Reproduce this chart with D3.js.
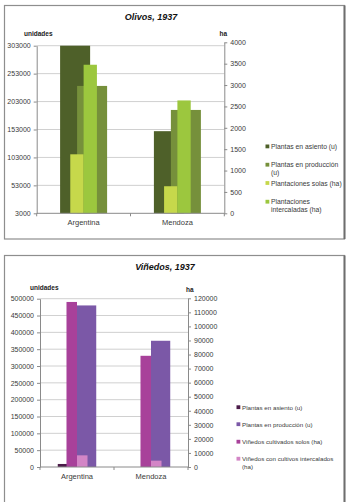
<!DOCTYPE html>
<html lang="es">
<head>
<meta charset="UTF-8"/>
<title>Olivos y Viñedos, 1937</title>
<script src="https://d3js.org/d3.v7.min.js"></script>
<style>
  body { margin: 0; background: #fff; }
  svg { display: block; font-family: "Liberation Sans", Arial, sans-serif; }
  .tick text { fill: #3a3a3a; font-size: 7px; }
  .cat { fill: #3a3a3a; font-size: 7.5px; }
  .legend text { fill: #3a3a3a; }
  .title { font-size: 9px; font-weight: bold; font-style: italic; fill: #111; }
  .units { font-size: 6.5px; font-weight: bold; fill: #222; }
</style>
</head>
<body>
<script>
// categorias
var categories = ["Argentina", "Mendoza"];

// Olivos, 1937
var olivosAsiento = [303000, 150000];
var olivosProduccion = [231000, 188000];
var olivosSolas = [1380, 633];
var olivosIntercaladas = [3475, 2640];
var olivosLeftTicks = [3000, 53000, 103000, 153000, 203000, 253000, 303000];
var olivosRightTicks = [0, 500, 1000, 1500, 2000, 2500, 3000, 3500, 4000];
var olivosLegend = [["Plantas en asiento (u)"], ["Plantas en producción", "(u)"],
                    ["Plantaciones solas (ha)"], ["Plantaciones", "intercaladas (ha)"]];

// Viñedos, 1937
var vinAsiento = [9000, 0];
var vinProduccion = [480000, 375000];
var vinSolos = [117400, 79100];
var vinIntercalados = [8300, 4500];
var vinLeftTicks = [0, 50000, 100000, 150000, 200000, 250000, 300000, 350000, 400000, 450000, 500000];
var vinRightTicks = [0, 10000, 20000, 30000, 40000, 50000, 60000, 70000, 80000, 90000, 100000, 110000, 120000];
var vinLegend = [["Plantas en asiento (u)"], ["Plantas en producción (u)"],
                 ["Viñedos cultivados solos (ha)"], ["Viñedos con cultivos intercalados", "(ha)"]];

var w = 350;
var h = 502;

var svg = d3.select("body")
            .append("svg")
            .attr("width", w)
            .attr("height", h);

function drawChart(c) {
    var g = svg.append("g");

    // marco
    g.append("rect")
        .attr("x", c.frame[0]).attr("y", c.frame[1])
        .attr("width", c.frame[2] - c.frame[0])
        .attr("height", c.frame[3] - c.frame[1])
        .attr("fill", "none")
        .attr("stroke", "#8e8e8e")
        .attr("stroke-width", 1.2);
    g.append("line")
        .attr("x1", c.frame[2]).attr("x2", c.frame[2])
        .attr("y1", c.frame[1]).attr("y2", c.frame[3])
        .attr("stroke", "#6e6e6e")
        .attr("stroke-width", 2);

    var x = d3.scaleBand().domain(categories).range([c.left, c.right]);
    var yL = d3.scaleLinear().domain(c.leftDomain).range([c.base, c.leftTop]);
    var yR = d3.scaleLinear().domain(c.rightDomain).range([c.base, c.rightTop]);

    // lineas de grilla
    g.selectAll(".grid")
        .data(c.leftTicks.slice(1))
        .enter()
        .append("line")
        .attr("x1", c.left).attr("x2", c.right)
        .attr("y1", function(d){ return yL(d); })
        .attr("y2", function(d){ return yL(d); })
        .attr("stroke", "#c4c4c4")
        .attr("stroke-width", 0.8);

    // barras
    var bw = x.bandwidth();
    function bars(series, scale, width, step) {
        var n = series.length;
        var total = width + step * (n - 1);
        series.forEach(function(s, i) {
            g.selectAll(null)
                .data(s.values)
                .enter()
                .append("rect")
                .attr("x", function(d, j){ return x(categories[j]) + bw / 2 - total / 2 + i * step; })
                .attr("y", function(d){ return scale(d); })
                .attr("width", width)
                .attr("height", function(d){ return c.base - scale(d); })
                .attr("fill", s.color);
        });
    }
    bars(c.primary, yL, bw * c.pw, bw * c.pstep);
    bars(c.secondary, yR, bw * c.sw, bw * c.sw);

    // eje izquierdo
    var axL = g.append("g")
        .attr("transform", "translate(" + c.left + ",0)")
        .call(d3.axisLeft(yL).tickValues(c.leftTicks).tickSize(3).tickSizeOuter(0).tickPadding(3).tickFormat(d3.format("d")));
    // eje derecho
    var axR = g.append("g")
        .attr("transform", "translate(" + c.right + ",0)")
        .call(d3.axisRight(yR).tickValues(c.rightTicks).tickSize(3).tickSizeOuter(0).tickPadding(3).tickFormat(d3.format("d")));
    [axL, axR].forEach(function(a) {
        a.select(".domain").attr("stroke", "#8a8a8a");
        a.selectAll(".tick line").attr("stroke", "#8a8a8a");
    });

    // eje de categorias
    g.append("line")
        .attr("x1", c.left).attr("x2", c.right)
        .attr("y1", c.base).attr("y2", c.base)
        .attr("stroke", "#8a8a8a");
    g.selectAll(null)
        .data([c.left, c.left + bw, c.right])
        .enter()
        .append("line")
        .attr("x1", function(d){ return d; }).attr("x2", function(d){ return d; })
        .attr("y1", c.base).attr("y2", c.base + 3)
        .attr("stroke", "#8a8a8a");
    g.selectAll(null)
        .data(categories)
        .enter()
        .append("text")
        .attr("class", "cat")
        .attr("x", function(d){ return x(d) + bw / 2; })
        .attr("y", c.catY)
        .attr("text-anchor", "middle")
        .text(function(d){ return d; });

    // titulos
    g.append("text").attr("class", "title")
        .attr("x", c.titleX).attr("y", c.titleY)
        .attr("text-anchor", "middle")
        .text(c.title);
    g.append("text").attr("class", "units")
        .attr("x", c.unitsX).attr("y", c.unitsY)
        .text("unidades");
    g.append("text").attr("class", "units")
        .attr("x", c.haX).attr("y", c.haY)
        .text("ha");

    // leyenda
    var all = c.primary.concat(c.secondary);
    var lg = g.append("g").attr("class", "legend");
    c.legend.forEach(function(lines, i) {
        var y = c.legendY[i];
        lg.append("rect")
            .attr("x", c.legendX).attr("y", y - 2.2)
            .attr("width", 3.8).attr("height", 3.8)
            .attr("fill", all[i].color);
        var t = lg.append("text")
            .attr("x", c.legendX + 5.5)
            .attr("y", y + 2.4)
            .style("font-size", c.legendSize + "px");
        lines.forEach(function(line, k) {
            t.append("tspan")
                .attr("x", c.legendX + 5.5)
                .attr("dy", k == 0 ? 0 : 8)
                .text(line);
        });
    });
}

drawChart({
    frame: [4.5, 5.5, 344.5, 239],
    title: "Olivos, 1937", titleX: 151, titleY: 19.5,
    unitsX: 24, unitsY: 35.5, haX: 219.5, haY: 35.5,
    left: 36.7, right: 224.3, base: 213.3,
    leftDomain: [3000, 303000], leftTop: 45.7,
    rightDomain: [0, 4000], rightTop: 42.3,
    leftTicks: olivosLeftTicks, rightTicks: olivosRightTicks,
    primary: [{values: olivosAsiento, color: "#4e6029"},
              {values: olivosProduccion, color: "#76903b"}],
    secondary: [{values: olivosSolas, color: "#c6d84b"},
                {values: olivosIntercaladas, color: "#9cc73e"}],
    pw: 0.32, pstep: 0.181, sw: 0.142,
    catY: 224.5,
    legend: olivosLegend, legendX: 265.5, legendSize: 6.8,
    legendY: [146.7, 165, 183.3, 202]
});

drawChart({
    frame: [4.5, 255.5, 344.5, 530],
    title: "Viñedos, 1937", titleX: 165, titleY: 269.5,
    unitsX: 30, unitsY: 290, haX: 186, haY: 291.5,
    left: 40, right: 188, base: 467,
    leftDomain: [0, 500000], leftTop: 298.7,
    rightDomain: [0, 120000], rightTop: 298.3,
    leftTicks: vinLeftTicks, rightTicks: vinRightTicks,
    primary: [{values: vinAsiento, color: "#4b1c49"},
              {values: vinProduccion, color: "#7b58a7"}],
    secondary: [{values: vinSolos, color: "#a8419a"},
                {values: vinIntercalados, color: "#d385c6"}],
    pw: 0.26, pstep: 0.26, sw: 0.142,
    catY: 479,
    legend: vinLegend, legendX: 236.5, legendSize: 6.2,
    legendY: [407.5, 424.5, 442, 459]
});
</script>
</body>
</html>
